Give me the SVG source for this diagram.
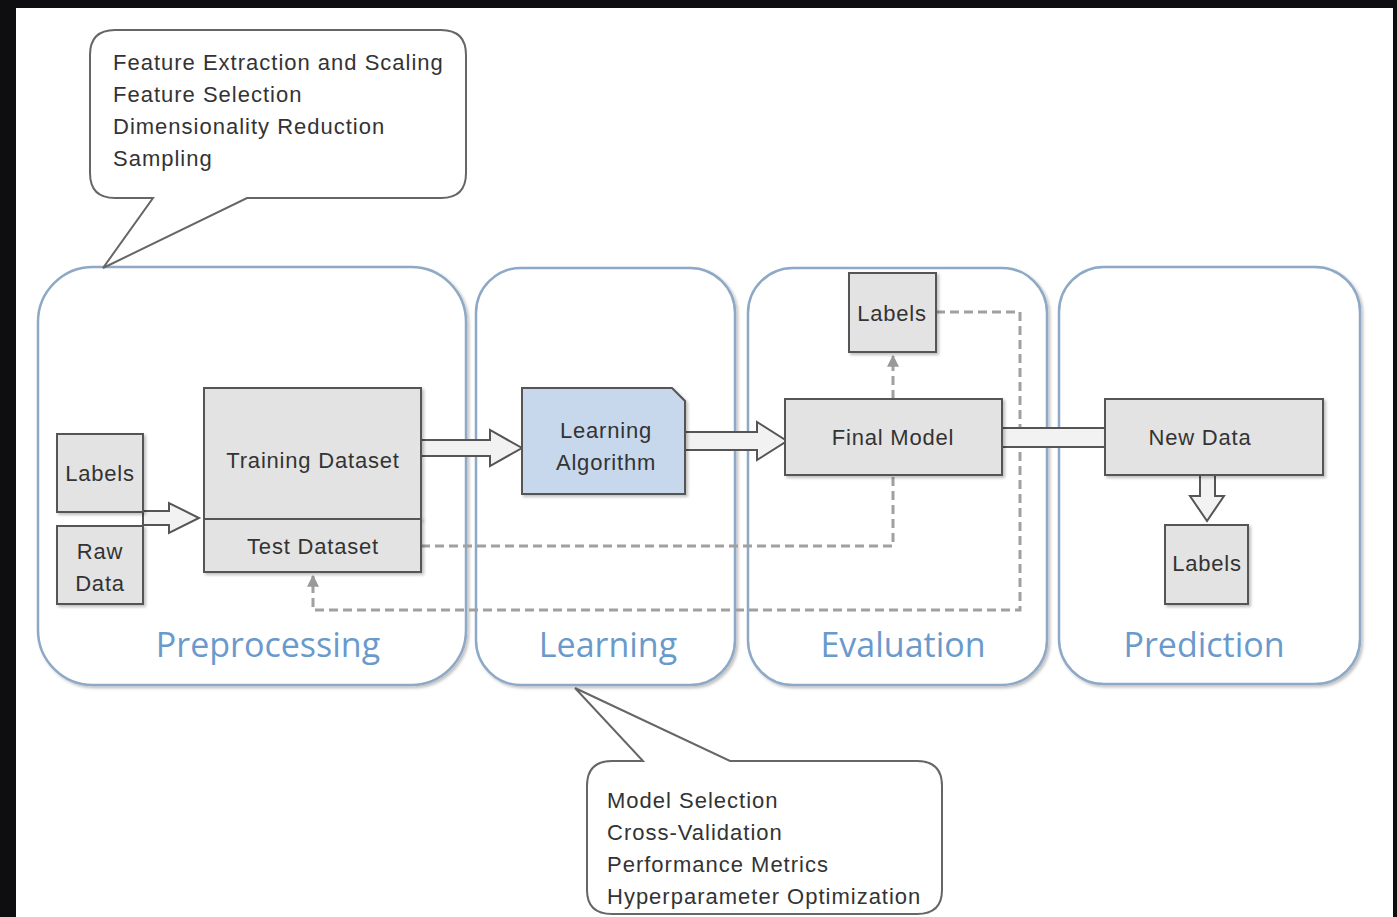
<svg xmlns="http://www.w3.org/2000/svg" width="1397" height="917" viewBox="0 0 1397 917">
<defs>
<style>
.panel{fill:#ffffff;stroke:#8ea9c6;stroke-width:2.5}
.node{fill:#e3e3e3;stroke:#555;stroke-width:2}
.call{fill:#ffffff;stroke:#666;stroke-width:2}
.t{font-family:"Liberation Sans",Arial,sans-serif;font-size:22px;letter-spacing:1px;fill:#333}
.tc{font-family:"Liberation Sans",Arial,sans-serif;font-size:22px;letter-spacing:0.8px;fill:#333;text-anchor:middle}
.title{font-family:"Open Sans","Liberation Sans",sans-serif;font-size:34px;fill:#6a99cc;text-anchor:middle}
.hollow{fill:#f2f2f2;stroke:#555;stroke-width:2;stroke-linejoin:miter}
.dash{fill:none;stroke:#a0a0a0;stroke-width:3;stroke-dasharray:9 5}
</style>
<marker id="gh" viewBox="0 0 10 10" refX="9" refY="5" markerWidth="4" markerHeight="4" orient="auto"><path d="M0,0 L10,5 L0,10 z" fill="#999"/></marker>
<filter id="sh" x="-10%" y="-10%" width="130%" height="130%"><feDropShadow dx="2" dy="2" stdDeviation="1.5" flood-color="#000" flood-opacity="0.25"/></filter>
</defs>
<rect x="0" y="0" width="1397" height="917" fill="#0e0e10"/>
<rect x="16" y="8" width="1377" height="909" fill="#ffffff"/>

<g id="panel-preprocessing">
<rect class="panel" x="38" y="267" width="428" height="418" rx="55" filter="url(#sh)"/>
<text class="title" x="268" y="657">Preprocessing</text>
</g>
<g id="panel-learning">
<rect class="panel" x="476" y="268" width="259" height="417" rx="45" filter="url(#sh)"/>
<text class="title" x="608" y="657">Learning</text>
</g>
<g id="panel-evaluation">
<rect class="panel" x="748" y="268" width="299" height="417" rx="45" filter="url(#sh)"/>
<text class="title" x="903" y="657">Evaluation</text>
</g>
<g id="panel-prediction">
<rect class="panel" x="1059" y="267" width="301" height="417" rx="45" filter="url(#sh)"/>
<text class="title" x="1204" y="657">Prediction</text>
</g>

<g id="callout-top">
<path class="call" d="M115,30 H441 Q466,30 466,55 V173 Q466,198 441,198 H247 L103,268 L153,198 H115 Q90,198 90,173 V55 Q90,30 115,30 Z"/>
<text class="t" x="113" y="70">Feature Extraction and Scaling</text>
<text class="t" x="113" y="102">Feature Selection</text>
<text class="t" x="113" y="134">Dimensionality Reduction</text>
<text class="t" x="113" y="166">Sampling</text>
</g>

<g id="callout-bottom">
<path class="call" d="M612,761 H643 L575,688 L730,761 H917 Q942,761 942,786 V890 Q942,914 917,914 H612 Q587,914 587,890 V786 Q587,761 612,761 Z"/>
<text class="t" x="607" y="808">Model Selection</text>
<text class="t" x="607" y="840">Cross-Validation</text>
<text class="t" x="607" y="872">Performance Metrics</text>
<text class="t" x="607" y="904">Hyperparameter Optimization</text>
</g>

<g id="connectors">
<path class="dash" d="M421,546 H893 V477"/>
<path class="dash" d="M893,399 V356" marker-end="url(#gh)"/>
<path class="dash" d="M936,312 H1020 V610 H313 V576" marker-end="url(#gh)"/>
<polygon class="hollow" points="143,511 169,511 169,503 199,518 169,533 169,525 143,525"/>
<polygon class="hollow" points="421,440 490,440 490,430 522,448 490,466 490,456 421,456"/>
<polygon class="hollow" points="685,432 757,432 757,422 787,441 757,460 757,450 685,450"/>
<rect x="1002" y="428" width="103" height="19" fill="#f2f2f2"/>
<line x1="1002" y1="428" x2="1105" y2="428" stroke="#555" stroke-width="2"/>
<line x1="1002" y1="447" x2="1105" y2="447" stroke="#555" stroke-width="2"/>
<polygon class="hollow" points="1200,475 1215,475 1215,496 1224,496 1207,521 1190,496 1200,496"/>
</g>

<g id="node-labels-input">
<rect class="node" x="57" y="434" width="86" height="78" filter="url(#sh)"/>
<text class="tc" x="100" y="481">Labels</text>
</g>
<g id="node-raw-data">
<rect class="node" x="57" y="526" width="86" height="78" filter="url(#sh)"/>
<text class="tc" x="100" y="559">Raw</text>
<text class="tc" x="100" y="591">Data</text>
</g>
<g id="node-training-dataset">
<rect class="node" x="204" y="388" width="217" height="131" filter="url(#sh)"/>
<text class="tc" x="313" y="468">Training Dataset</text>
</g>
<g id="node-test-dataset">
<rect class="node" x="204" y="519" width="217" height="53" filter="url(#sh)"/>
<text class="tc" x="313" y="554">Test Dataset</text>
</g>
<g id="node-learning-algorithm">
<path d="M522,388 H672 L685,401 V494 H522 Z" fill="#c7d7ec" stroke="#555" stroke-width="2" filter="url(#sh)"/>
<text class="tc" x="606" y="438">Learning</text>
<text class="tc" x="606" y="470">Algorithm</text>
</g>
<g id="node-final-model">
<rect class="node" x="785" y="399" width="217" height="76" filter="url(#sh)"/>
<text class="tc" x="893" y="445">Final Model</text>
</g>
<g id="node-labels-eval">
<rect class="node" x="849" y="273" width="87" height="79" filter="url(#sh)"/>
<text class="tc" x="892" y="321">Labels</text>
</g>
<g id="node-new-data">
<rect class="node" x="1105" y="399" width="218" height="76" filter="url(#sh)"/>
<text class="tc" x="1200" y="445">New Data</text>
</g>
<g id="node-labels-pred">
<rect class="node" x="1165" y="525" width="83" height="79" filter="url(#sh)"/>
<text class="tc" x="1207" y="571">Labels</text>
</g>
</svg>
